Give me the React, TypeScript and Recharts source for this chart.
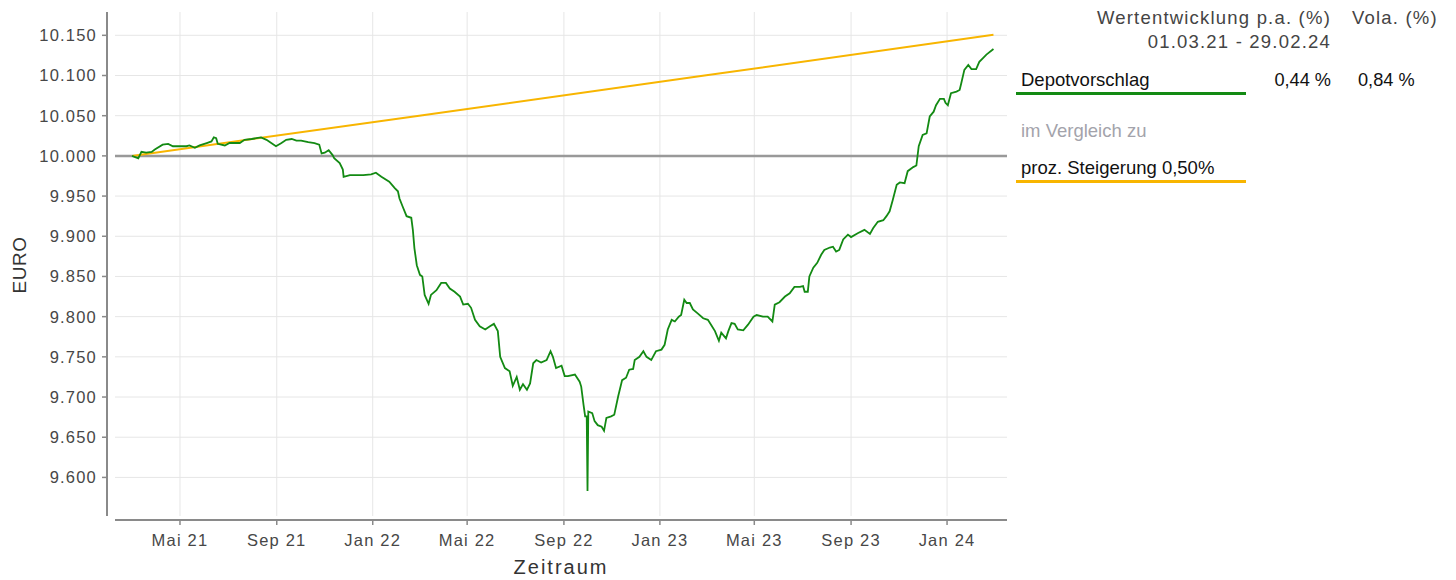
import React from 'react';
import { LineChart, Line, XAxis, YAxis, CartesianGrid, ReferenceLine } from 'recharts';

const depotDates: string[] = [
  '2021-03-01','2021-03-09','2021-03-13','2021-03-19','2021-03-26','2021-03-30','2021-04-09','2021-04-16','2021-04-22','2021-05-01',
  '2021-05-09','2021-05-13','2021-05-20','2021-05-26','2021-06-04','2021-06-10','2021-06-13','2021-06-16','2021-06-18','2021-06-27',
  '2021-07-03','2021-07-09','2021-07-16','2021-07-22','2021-07-31','2021-08-06','2021-08-12','2021-08-19','2021-08-25','2021-08-31',
  '2021-09-07','2021-09-13','2021-09-20','2021-09-26','2021-10-02','2021-10-11','2021-10-19','2021-10-25','2021-10-28','2021-11-01',
  '2021-11-06','2021-11-11','2021-11-13','2021-11-20','2021-11-24','2021-11-25','2021-12-03','2021-12-11','2021-12-20','2021-12-30',
  '2022-01-05','2022-01-12','2022-01-22','2022-01-29','2022-02-02','2022-02-04','2022-02-08','2022-02-13','2022-02-19','2022-02-21',
  '2022-02-23','2022-02-26','2022-03-02','2022-03-05','2022-03-08','2022-03-13','2022-03-16','2022-03-23','2022-03-29','2022-04-04',
  '2022-04-09','2022-04-15','2022-04-22','2022-04-26','2022-05-02','2022-05-06','2022-05-11','2022-05-17','2022-05-24','2022-05-30',
  '2022-06-04','2022-06-09','2022-06-12','2022-06-18','2022-06-24','2022-06-28','2022-07-03','2022-07-07','2022-07-11','2022-07-16',
  '2022-07-20','2022-07-24','2022-07-28','2022-08-03','2022-08-10','2022-08-15','2022-08-18','2022-08-22','2022-08-29','2022-09-02',
  '2022-09-06','2022-09-15','2022-09-21','2022-09-23','2022-09-26','2022-09-28','2022-09-30','2022-10-01','2022-10-02','2022-10-07',
  '2022-10-10','2022-10-14','2022-10-19','2022-10-22','2022-10-25','2022-10-31','2022-11-04','2022-11-09','2022-11-14','2022-11-19',
  '2022-11-23','2022-11-28','2022-11-30','2022-12-06','2022-12-11','2022-12-15','2022-12-21','2022-12-27','2023-01-03','2023-01-07',
  '2023-01-11','2023-01-16','2023-01-20','2023-01-25','2023-01-28','2023-02-01','2023-02-04','2023-02-08','2023-02-12','2023-02-18',
  '2023-02-25','2023-03-03','2023-03-07','2023-03-12','2023-03-17','2023-03-20','2023-03-26','2023-03-29','2023-04-02','2023-04-06',
  '2023-04-10','2023-04-17','2023-04-23','2023-04-30','2023-05-04','2023-05-12','2023-05-18','2023-05-24','2023-05-27','2023-06-02',
  '2023-06-09','2023-06-15','2023-06-21','2023-06-28','2023-07-02','2023-07-04','2023-07-08','2023-07-10','2023-07-15','2023-07-20',
  '2023-07-25','2023-07-29','2023-08-05','2023-08-09','2023-08-13','2023-08-17','2023-08-22','2023-08-28','2023-09-01','2023-09-10',
  '2023-09-18','2023-09-25','2023-09-29','2023-10-05','2023-10-12','2023-10-16','2023-10-20','2023-10-24','2023-10-29','2023-11-02',
  '2023-11-08','2023-11-12','2023-11-19','2023-11-23','2023-11-26','2023-12-01','2023-12-06','2023-12-10','2023-12-15','2023-12-18',
  '2023-12-23','2023-12-28','2023-12-30','2024-01-02','2024-01-06','2024-01-13','2024-01-17','2024-01-19','2024-01-23','2024-01-28',
  '2024-02-01','2024-02-07','2024-02-11','2024-02-16','2024-02-20','2024-02-29',
];

const depotValues: number[] = [
  10000, 9997, 10005, 10004, 10005, 10008, 10014, 10015, 10012, 10012,
  10012, 10013, 10010, 10013, 10016, 10018, 10023, 10022, 10015, 10013,
  10016, 10016, 10016, 10020, 10021, 10022, 10023, 10020, 10016, 10012,
  10016, 10020, 10021, 10019, 10019, 10017, 10016, 10014, 10003, 10004,
  10007, 10001, 9997, 9991, 9983, 9974, 9976, 9976, 9976, 9977,
  9979, 9974, 9968, 9960, 9956, 9947, 9937, 9925, 9923, 9908,
  9885, 9864, 9852, 9850, 9827, 9816, 9827, 9833, 9842, 9842,
  9835, 9831, 9825, 9815, 9816, 9811, 9796, 9788, 9784, 9788,
  9791, 9782, 9750, 9736, 9732, 9714, 9725, 9709, 9716, 9709,
  9717, 9742, 9746, 9743, 9746, 9757, 9750, 9736, 9739, 9726,
  9726, 9728, 9719, 9713, 9690, 9676, 9676, 9583, 9682, 9680,
  9670, 9665, 9663, 9658, 9674, 9676, 9678, 9701, 9721, 9724,
  9734, 9735, 9746, 9750, 9757, 9750, 9746, 9757, 9759, 9765,
  9784, 9796, 9794, 9800, 9802, 9821, 9817, 9817, 9809, 9804,
  9798, 9796, 9790, 9782, 9770, 9780, 9773, 9782, 9792, 9791,
  9784, 9783, 9790, 9800, 9802, 9800, 9800, 9794, 9815, 9818,
  9825, 9829, 9837, 9837, 9838, 9831, 9831, 9850, 9861, 9867,
  9877, 9883, 9886, 9887, 9881, 9883, 9896, 9902, 9899, 9904,
  9908, 9903, 9910, 9918, 9920, 9925, 9931, 9945, 9964, 9967,
  9966, 9981, 9986, 9988, 10012, 10026, 10028, 10049, 10055, 10063,
  10071, 10071, 10066, 10063, 10078, 10080, 10082, 10090, 10107, 10113,
  10108, 10108, 10117, 10122, 10126, 10133,
];

const benchmarkDates: string[] = ['2021-03-01', '2022-03-01', '2023-03-01', '2024-02-29'];
const benchmarkValues: number[] = [10000, 10050, 10100.25, 10150.75];

const xTickDates: string[] = ['2021-05-01','2021-09-01','2022-01-01','2022-05-01','2022-09-01','2023-01-01','2023-05-01','2023-09-01','2024-01-01'];
const monthLabels: Record<number, string> = { 0: 'Jan', 4: 'Mai', 8: 'Sep' };
const yTicks: number[] = [9600, 9650, 9700, 9750, 9800, 9850, 9900, 9950, 10000, 10050, 10100, 10150];

const DAY = 86400000;
const startT = Date.parse('2021-03-01');
const xDomain: [number, number] = [startT - 21.6 * DAY, startT + 1112.2 * DAY];
const yDomain: [number, number] = [9552, 10179];

const depotData = depotDates.map((d, i) => ({ t: Date.parse(d), v: depotValues[i] }));
const benchData = benchmarkDates.map((d, i) => ({ t: Date.parse(d), v: benchmarkValues[i] }));
const xTicks = xTickDates.map((d) => Date.parse(d));

const FONT = '"Liberation Sans", Arial, sans-serif';
const GREEN = '#138a13';
const YELLOW = '#f8b500';

const fmtX = (t: number) => {
  const d = new Date(t);
  return `${monthLabels[d.getUTCMonth()]} ${String(d.getUTCFullYear()).slice(2)}`;
};
const fmtY = (v: number) => (v / 1000).toFixed(3);

const abs = (left: number, top: number, extra: React.CSSProperties = {}): React.CSSProperties => ({
  position: 'absolute', left, top, fontFamily: FONT, whiteSpace: 'nowrap', lineHeight: '22px', ...extra,
});

export default function App() {
  return (
    <div style={{ position: 'absolute', left: 0, top: 0, width: 1456, height: 580, background: '#fff', overflow: 'hidden' }}>
      <LineChart width={1456} height={580} margin={{ top: 12, right: 449, bottom: 0, left: 0 }}>
        <CartesianGrid stroke="#e6e6e6" strokeWidth={1} horizontalValues={yTicks} verticalValues={xTicks} />
        <XAxis
          dataKey="t"
          type="number"
          domain={xDomain}
          allowDataOverflow
          ticks={xTicks}
          tickFormatter={fmtX}
          height={64}
          tickSize={5}
          tickMargin={13}
          axisLine={{ stroke: '#8a8a8a', strokeWidth: 2, transform: 'translate(0 4)' }}
          tickLine={{ stroke: '#8a8a8a', strokeWidth: 1.5, transform: 'translate(0 4)' }}
          tick={{ fontSize: 16.5, fill: '#474747', fontFamily: FONT, letterSpacing: 1.2 }}
        />
        <YAxis
          type="number"
          domain={yDomain}
          allowDataOverflow
          ticks={yTicks}
          tickFormatter={fmtY}
          width={115}
          tickSize={5}
          tickMargin={13}
          axisLine={{ stroke: '#8a8a8a', strokeWidth: 2, transform: 'translate(-8 0)' }}
          tickLine={{ stroke: '#8a8a8a', strokeWidth: 1.5, transform: 'translate(-8 0)' }}
          tick={{ fontSize: 16.5, fill: '#474747', fontFamily: FONT, letterSpacing: 1.2 }}
        />
        <ReferenceLine y={10000} stroke="#999999" strokeWidth={2.5} />
        <Line data={benchData} dataKey="v" type="linear" stroke={YELLOW} strokeWidth={2} dot={false} isAnimationActive={false} />
        <Line data={depotData} dataKey="v" type="linear" stroke={GREEN} strokeWidth={1.8} dot={false} isAnimationActive={false} />
      </LineChart>

      <div style={abs(-10, 254, { fontSize: 19, color: '#333', transform: 'rotate(-90deg)', transformOrigin: 'center', width: 60, textAlign: 'center', letterSpacing: 0.5 })}>EURO</div>
      <div style={abs(461, 556, { fontSize: 20, color: '#333', width: 200, textAlign: 'center', letterSpacing: 2 })}>Zeitraum</div>

      <div style={abs(1031, 7, { fontSize: 18.5, color: '#444', width: 300, textAlign: 'right', letterSpacing: 1.2 })}>Wertentwicklung p.a. (%)</div>
      <div style={abs(1352, 7, { fontSize: 18.5, color: '#444', letterSpacing: 1.2 })}>Vola. (%)</div>
      <div style={abs(1031, 31, { fontSize: 18.5, color: '#444', width: 300, textAlign: 'right', letterSpacing: 1.2 })}>01.03.21 - 29.02.24</div>

      <div style={abs(1021, 69, { fontSize: 18.5, color: '#111' })}>Depotvorschlag</div>
      <div style={abs(1231, 69, { fontSize: 18.2, color: '#111', width: 100, textAlign: 'right' })}>0,44 %</div>
      <div style={abs(1358, 69, { fontSize: 18.2, color: '#111' })}>0,84 %</div>
      <div style={{ position: 'absolute', left: 1016, top: 92, width: 230, height: 3, background: GREEN }} />

      <div style={abs(1021, 120, { fontSize: 18.5, color: '#a3a3ab' })}>im Vergleich zu</div>
      <div style={abs(1021, 157, { fontSize: 18.5, color: '#111' })}>proz. Steigerung 0,50%</div>
      <div style={{ position: 'absolute', left: 1016, top: 180, width: 230, height: 3, background: YELLOW }} />
    </div>
  );
}
